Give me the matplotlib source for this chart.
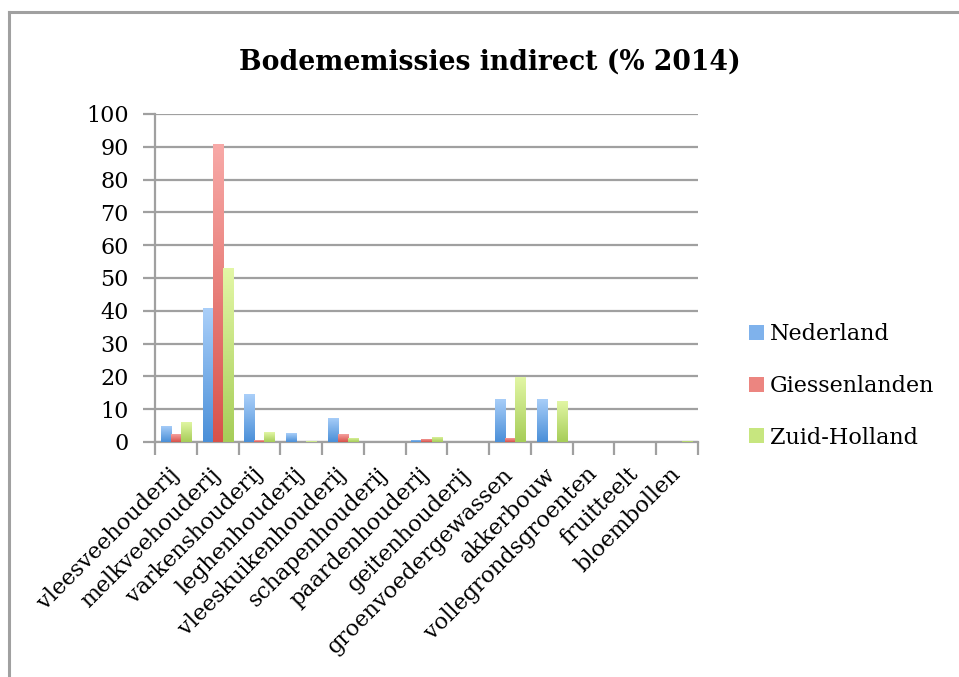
import numpy as np
import matplotlib
matplotlib.use("Agg")
import matplotlib.pyplot as plt
from matplotlib.colors import LinearSegmentedColormap
from matplotlib.lines import Line2D
from matplotlib.patches import Patch

categories = ["vleesveehouderij", "melkveehouderij", "varkenshouderij", "leghenhouderij",
              "vleeskuikenhouderij", "schapenhouderij", "paardenhouderij", "geitenhouderij",
              "groenvoedergewassen", "akkerbouw", "vollegrondsgroenten", "fruitteelt", "bloembollen"]
nederland = [5.0, 40.8, 14.5, 2.7, 7.4, 0.0, 0.7, 0.1, 13.2, 13.2, 0.1, 0.1, 0.1]
giessenlanden = [2.5, 91.0, 0.6, 0.0, 2.5, 0.0, 1.0, 0.1, 1.3, 0.1, 0.0, 0.0, 0.0]
zuid_holland = [6.2, 53.0, 3.0, 0.2, 1.3, 0.0, 1.6, 0.1, 19.9, 12.6, 0.1, 0.1, 0.4]
series_names = ["Nederland", "Giessenlanden", "Zuid-Holland"]
yticks = [0, 10, 20, 30, 40, 50, 60, 70, 80, 90, 100]

# (top colour, bottom colour) gradients per series
gradients = [("#aacff9", "#4a8fd8"), ("#f8aaa8", "#d8524a"), ("#e3f7a6", "#a6cd58")]
legend_colors = ["#7fb2ec", "#ec8580", "#c7e67f"]

plt.rcParams["font.family"] = ["DejaVu Serif"]

W, H = 959, 677
fig = plt.figure(figsize=(W / 100, H / 100), dpi=100)
ax = fig.add_axes([155 / W, 1 - 442 / H, (698 - 155) / W, (442 - 114) / H])

x = np.arange(len(categories))
bw = 0.24
offsets = [-bw, 0, bw]
all_series = [nederland, giessenlanden, zuid_holland]

for vals, off, (ctop, cbot) in zip(all_series, offsets, gradients):
    cmap = LinearSegmentedColormap.from_list("g", [cbot, ctop])
    bars = ax.bar(x + off, vals, width=bw, color="none", edgecolor="none", zorder=3)
    grad = np.linspace(0, 1, 256).reshape(-1, 1)
    for b in bars:
        h = b.get_height()
        if h <= 0:
            continue
        x0 = b.get_x()
        im = ax.imshow(grad, cmap=cmap, origin="lower", aspect="auto",
                       extent=(x0, x0 + b.get_width(), 0, h), zorder=3)
        im.set_clip_path(b)

ax.set_xlim(-0.5, len(categories) - 0.5)
ax.set_ylim(0, 100)
ax.set_yticks(yticks)
ax.yaxis.grid(True, color="#a0a0a0", linewidth=1.6, zorder=0)
ax.set_axisbelow(True)

for s in ["top", "right"]:
    ax.spines[s].set_visible(False)
for s in ["left", "bottom"]:
    ax.spines[s].set_color("#a0a0a0")
    ax.spines[s].set_linewidth(1.6)

ax.tick_params(axis="y", length=9, width=1.6, color="#a0a0a0", labelsize=16, pad=10)
ax.set_xticks(x)
ax.set_xticklabels(categories, rotation=45, ha="right", va="center",
                   rotation_mode="anchor", fontsize=16)
ax.tick_params(axis="x", which="major", length=0, pad=21)
ax.set_xticks(np.arange(-0.5, len(categories)), minor=True)
ax.tick_params(axis="x", which="minor", length=9, width=1.6, color="#a0a0a0")

fig.text(490 / W, 1 - 62 / H, "Bodememissies indirect (% 2014)",
         ha="center", va="center", fontsize=19.2, fontweight="bold")

handles = [Patch(facecolor=c, edgecolor="none") for c in legend_colors]
fig.legend(handles, series_names, loc="center left", bbox_to_anchor=(738 / W, 1 - 386 / H),
           frameon=False, fontsize=16, handlelength=0.65, handleheight=0.65,
           handletextpad=0.3, labelspacing=1.33, borderpad=0)

# outer chart border (top and left edges)
border = dict(color="#a0a0a0", linewidth=2.2, transform=fig.transFigure)
fig.add_artist(Line2D([9 / W, 1], [1 - 12 / H, 1 - 12 / H], **border))
fig.add_artist(Line2D([9 / W, 9 / W], [0, 1 - 12 / H], **border))

fig.savefig("out.png", dpi=100)
